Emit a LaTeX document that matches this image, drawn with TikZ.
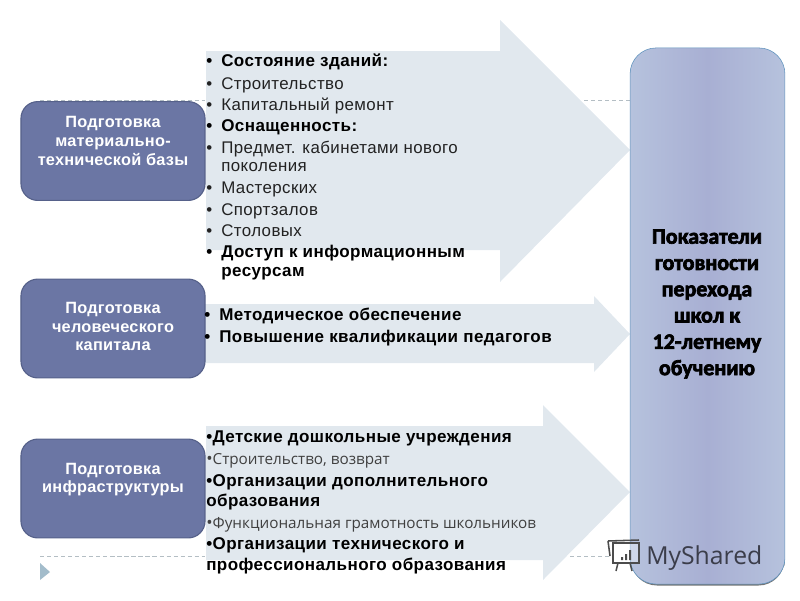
\documentclass[tikz,border=0pt]{standalone}
\usepackage{fontspec}
\setmainfont[LetterSpace=2.5]{Liberation Sans}
\newfontfamily\boxfont[LetterSpace=1.5]{Liberation Sans}
\newfontfamily\thinfont{Open Sans}
\newfontfamily\glowfont[FakeBold=3]{Carlito Bold}
\newfontfamily\markfont{Open Sans}
\usepackage{xcolor}
\usetikzlibrary{positioning}

\definecolor{arrowfill}{HTML}{E1E8EE}
\definecolor{boxfill}{HTML}{6B76A4}
\definecolor{boxline}{HTML}{56618A}
\definecolor{panelside}{HTML}{B6C2DD}
\definecolor{panelmid}{HTML}{A8AFD3}
\definecolor{panelline}{HTML}{5F93BD}
\definecolor{dashline}{HTML}{B4BEC4}
\definecolor{marker}{HTML}{A3BCCB}
\definecolor{itemtext}{HTML}{222222}

\newlength{\pxunit}
\setlength{\pxunit}{0.025cm}
\newcommand{\itm}[1]{\makebox[15\pxunit][l]{•}#1}

\tikzset{
    sidebox/.style = {rectangle, rounded corners = 0.42cm, draw = boxline, thick, fill = boxfill,
        minimum width = 4.6cm, minimum height = 2.47cm, inner sep = 0pt},
    boxtext/.style = {inner sep = 0pt, text = white, font = \fontsize{11.6}{13.2}\selectfont\boxfont\bfseries, align = center},
    item/.style = {anchor = base west, inner sep = 0pt, text = itemtext, font = \fontsize{12}{12}\selectfont},
    bolditem/.style = {item, text = black, font = \fontsize{12.1}{12}\selectfont\bfseries},
    thinitem/.style = {item, text = black!75, font = \fontsize{10.85}{12}\selectfont\thinfont},
    guide/.style = {dashline, densely dashed, thin}
}

\begin{document}
\begin{tikzpicture} [x = 0.025cm, y = -0.025cm]

    \useasboundingbox (0,0) rectangle (800,600);

    \draw [guide] (40,100) -- (205,100) (584,100) -- (630,100);
    \draw [guide] (40,556) -- (205,556) (570,556) -- (612,556);
    \fill [marker] (40,563) -- (50,572) -- (40,580) -- cycle;

    \fill [arrowfill] (206,51) -- (500,51) -- (500,20) -- (630,150) -- (500,282) -- (500,250) -- (206,250) -- cycle;
    \fill [arrowfill] (204,304) -- (594,304) -- (594,296) -- (630,334) -- (594,372) -- (594,363) -- (204,363) -- cycle;
    \fill [arrowfill] (206,426) -- (543,426) -- (543,405) -- (630,492) -- (543,580) -- (543,560) -- (206,560) -- cycle;

    \node (base) [sidebox] at (113,151) {};
    \node (staff) [sidebox] at (113,328.5) {};
    \node (infra) [sidebox] at (113,488.5) {};
    \node (basetext) [boxtext] at (113,141) {Подготовка\\материально-\\технической базы};
    \node (stafftext) [boxtext] at (113,326.5) {Подготовка\\человеческого\\капитала};
    \node (infratext) [boxtext] at (113,479.5) {Подготовка\\инфраструктуры};

    \fill [black!55, rounded corners = 0.65cm] (631,540) rectangle (784.5,585.5);
    \node (panel) [rectangle, rounded corners = 0.65cm, draw = panelline, left color = panelside,
        right color = panelside, middle color = panelmid, minimum width = 3.87cm, minimum height = 13.4cm,
        inner sep = 0pt] at (707.5,316) {};
    \node (title) [font = \fontsize{15.6}{18.7}\selectfont\glowfont, align = center] at (707,304)
        {Показатели\\готовности\\перехода\\школ к\\12-летнему\\обучению};

    % first arrow
    \node (a1) [bolditem] at (206,66) {\itm{Состояние зданий:}};
    \node (a2) [item] at (206,89) {\itm{Строительство}};
    \node (a3) [item] at (206,110) {\itm{Капитальный ремонт}};
    \node (a4) [bolditem] at (206,131) {\itm{Оснащенность:}};
    \node (a5) [item] at (206,153) {\itm{Предмет. кабинетами нового}};
    \node (a6) [item] at (221,171) {поколения};
    \node (a7) [item] at (206,193) {\itm{Мастерских}};
    \node (a8) [item] at (206,215) {\itm{Спортзалов}};
    \node (a9) [item] at (206,236) {\itm{Столовых}};
    \node (a10) [bolditem] at (206,257) {\itm{Доступ к информационным}};
    \node (a11) [bolditem] at (221,276) {ресурсам};

    % second arrow
    \node (b1) [bolditem] at (204,320) {\itm{Методическое обеспечение}};
    \node (b2) [bolditem] at (204,342) {\itm{Повышение квалификации педагогов}};

    % third arrow
    \node (c1) [bolditem] at (206,442) {•Детские дошкольные учреждения};
    \node (c2) [thinitem] at (206,464) {{\large•}Строительство, возврат};
    \node (c3) [bolditem] at (206,486) {•Организации дополнительного};
    \node (c4) [bolditem] at (206,506) {образования};
    \node (c5) [thinitem] at (206,528) {{\large•}Функциональная грамотность школьников};
    \node (c6) [bolditem] at (206,549) {•Организации технического и};
    \node (c7) [bolditem] at (206,570) {профессионального образования};

    \node (mark) [anchor = base west, inner sep = 0pt, text = black!65!panelmid,
        font = \fontsize{17.6}{20}\selectfont\markfont] at (646,564) {MyShared};
    \draw [black!70, line width = 1.1pt, fill = white, fill opacity = 0.35] (613,543) rectangle (639,563);
    \draw [black!70, line width = 1.1pt] (608,541) -- (639,540) (608,541) -- (610,556) (618,563) -- (616,571) (630,563) -- (632,571);
    \fill [black!70] (621,557) rectangle (623,560) (625,554) rectangle (627,560) (629,550) rectangle (631,560);

\end{tikzpicture}
\end{document}
